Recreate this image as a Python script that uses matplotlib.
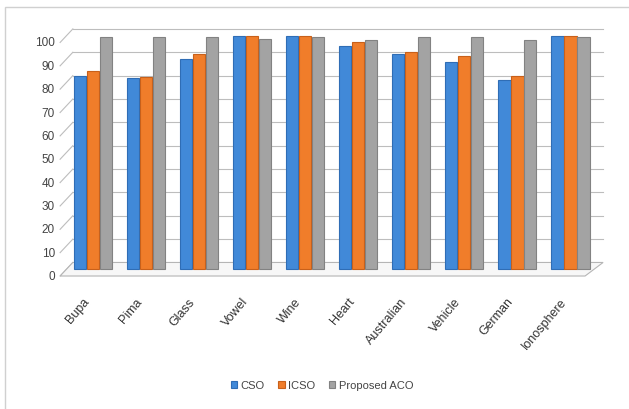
import matplotlib.pyplot as plt
import numpy as np
from matplotlib.patches import Polygon, Rectangle

datasets = ["Bupa", "Pima", "Glass", "Vowel", "Wine", "Heart",
            "Australian", "Vehicle", "German", "Ionosphere"]
cso = [82.6, 81.8, 90.0, 100.0, 100.0, 95.7, 92.2, 88.6, 81.1, 99.7]
icso = [85.0, 82.5, 92.2, 100.0, 99.7, 97.4, 93.2, 91.2, 82.6, 100.0]
proposed_aco = [99.3, 99.3, 99.3, 98.6, 99.3, 98.3, 99.3, 99.3, 98.3, 99.3]
series_names = ["CSO", "ICSO", "Proposed ACO"]
yticks = np.arange(0, 101, 10)

colors = ["#4189d8", "#f07d2a", "#a3a3a3"]
edges = ["#2f6db5", "#c8601a", "#828282"]

plt.rcParams['font.family'] = ['Liberation Sans', 'DejaVu Sans']

fig = plt.figure(figsize=(6.29, 4.10), dpi=100)
fig.patches.append(Rectangle((5 / 629, -0.01), 1.0, (410 - 8) / 410 + 0.01,
                             transform=fig.transFigure, fill=False,
                             edgecolor="#d0d0d0", linewidth=1.0))
ax = fig.add_axes([0.0922, 0.305, 0.870, 0.634])
ax.set_xlim(-0.66, 9.66)
ax.set_ylim(-6.3, 105)

depth = 2.9      # half the fake 3d depth, in value units
dx = 0.12        # half the fake 3d shift, in category units
n = len(datasets)
x = np.arange(n)

# floor
floor = Polygon([(-0.5 - dx, -depth), (n - 0.6 - dx, -depth),
                 (n - 0.5 + dx, depth), (-0.5 + dx, depth)],
                closed=True, facecolor="#f7f7f7", edgecolor="#b5b5b5", lw=0.8, zorder=1)
ax.add_patch(floor)

# back wall gridlines + diagonal ticks
for v in yticks[1:]:
    ax.plot([-0.5 + dx, n - 0.5 + dx], [v + depth, v + depth], color="#bdbdbd", lw=0.8, zorder=0)
for v in yticks:
    ax.plot([-0.5 - dx, -0.5 + dx], [v - depth, v + depth], color="#bdbdbd", lw=0.8, zorder=0)
    ax.text(-0.5 - dx - 0.1, v - depth, str(v), ha="right", va="center",
            fontsize=8.5, color="#444444")

w = 0.245
for i, (vals, c, e, name) in enumerate(zip([cso, icso, proposed_aco], colors, edges, series_names)):
    ax.bar(x + (i - 1) * w, vals, width=w * 0.97, color=c, edgecolor=e,
           linewidth=0.8, zorder=3, label=name)

ax.set_xticks(x - 0.2)
ax.set_xticklabels(datasets, rotation=50, ha="right", rotation_mode="anchor",
                   fontsize=9, color="#333333")
ax.tick_params(axis="x", length=0, pad=8)
ax.set_yticks([])
for s in ax.spines.values():
    s.set_visible(False)

fig.legend(loc="center", bbox_to_anchor=(322 / 629, 1 - 386 / 410), ncol=3,
           frameon=False, fontsize=8, handlelength=0.6, handleheight=0.6,
           handletextpad=0.3, columnspacing=1.2, labelcolor="#444444")

fig.savefig("out.png", dpi=100)
